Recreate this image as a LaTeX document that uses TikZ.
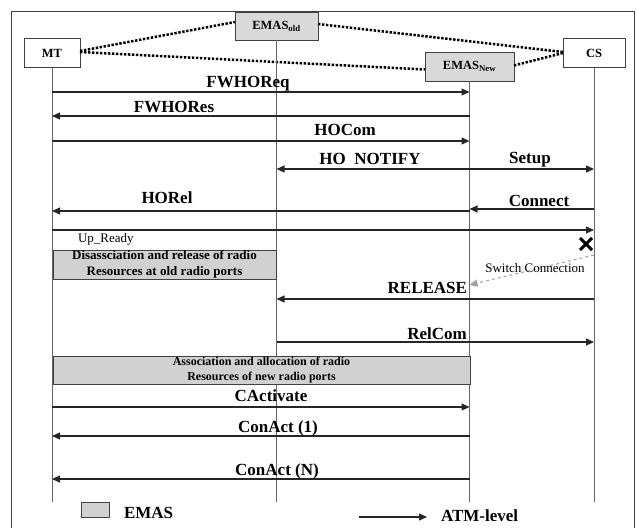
\documentclass[tikz,border=0pt]{standalone}
\usepackage{fontspec}
\setmainfont{Liberation Serif}
\usetikzlibrary{arrows.meta}
\begin{document}
\begin{tikzpicture}[x=1pt,y=-1pt,
  every node/.style={inner sep=0pt, outer sep=0pt},
  entity/.style={draw=black!75, line width=1pt, minimum height=29pt,
    font=\bfseries\fontsize{12.5}{14}\selectfont},
  emas/.style={entity, fill=black!15},
  life/.style={draw=black!60, line width=0.9pt},
  tip/.style={-{Triangle[length=8pt,width=7pt]}},
  msg/.style={draw=black!85, line width=1.1pt, tip},
  lbl/.style={anchor=base, font=\bfseries\fontsize{17}{20}\selectfont},
  note/.style={anchor=base, font=\fontsize{13}{15}\selectfont},
  link/.style={line width=2.5pt, dash pattern=on 2.4pt off 1.6pt},
  band/.style={draw=black!75, line width=1pt, fill=black!18, align=center},
]
\useasboundingbox (0,0) rectangle (637,528);

% outer frame
\draw[black!75, line width=1pt] (11,528) -- (11,11) -- (634,11) -- (634,528);

% entities
\node[entity, minimum width=56pt] (mt) at (52,53) {MT};
\node[emas, minimum width=83pt, minimum height=28pt] (old) at (276.5,26) {EMAS\textsubscript{old}};
\node[emas, minimum width=89pt] (new) at (469.5,66.5) {EMAS\textsubscript{New}};
\node[entity, minimum width=62pt] (cs) at (594,53) {CS};

% dotted association links
\draw[link] ([yshift=2pt]mt.east) -- ([yshift=4pt]old.west);
\draw[link] ([yshift=1pt]mt.east) -- ([yshift=-3pt]new.west);
\draw[link] ([yshift=2pt]old.east) -- ([yshift=1pt]cs.west);
\draw[link] ([yshift=1pt]new.east) -- (cs.west);

% lifelines
\coordinate (mtB) at (mt |- 0,502);
\coordinate (oldB) at (old |- 0,502);
\coordinate (newB) at (new |- 0,502);
\coordinate (csB) at (cs |- 0,502);
\draw[life] (mt.south) -- (mtB);
\draw[life] (old.south) -- (oldB);
\draw[life] (new.south) -- (newB);
\draw[life] (cs.south) -- (csB);

% grey EMAS activity bands
\node[band, minimum width=223pt, minimum height=29pt,
  font=\bfseries\fontsize{13}{16}\selectfont] (band1) at (164.5,264.5)
  {Disassciation and release of radio\\Resources at old radio ports};
\node[band, minimum width=417pt, minimum height=28pt,
  font=\bfseries\fontsize{12}{15}\selectfont] (band2) at (261.5,370)
  {Association and allocation of radio\\Resources of new radio ports};

% messages
\draw[msg] (mt |- 0,92) -- (new |- 0,92);
\node[lbl] (l1) at (248,87) {FWHOReq};
\draw[msg] (new |- 0,116) -- (mt |- 0,116);
\node[lbl] (l2) at (174,112) {FWHORes};
\draw[msg] (mt |- 0,141) -- (new |- 0,141);
\node[lbl] (l3) at (345,135) {HOCom};
\draw[msg, {Triangle[length=8pt,width=7pt]}-{Triangle[length=8pt,width=7pt]}]
  (old |- 0,169) -- (cs |- 0,169);
\node[lbl] (l4) at (370,164) {HO~~NOTIFY};
\node[lbl] (l5) at (530,163) {Setup};
\draw[msg] (cs |- 0,209) -- (new |- 0,209);
\node[lbl] (l6) at (539,206) {Connect};
\draw[msg] (new |- 0,211) -- (mt |- 0,211);
\node[lbl] (l7) at (167,203) {HORel};
\draw[msg] (mt |- 0,230) -- (cs |- 0,230);
\node[note, anchor=base west] (l8) at (78,242) {Up\_Ready};

% broken connection and switch-over
\node (brk) at (586,244) {};
\draw[line width=3pt] (580,238) -- (592,250) (580,250) -- (592,238);
\draw[gray!75, line width=1pt, dashed, tip] (cs |- 0,255) -- (new |- 0,285);
\node[note] (l9) at (535,272) {Switch Connection};

\draw[msg] (cs |- 0,299) -- (old |- 0,299);
\node[lbl, anchor=base east] (l10) at (467,293) {RELEASE};
\draw[msg] (old |- 0,342) -- (cs |- 0,342);
\node[lbl] (l11) at (437,339) {RelCom};
\draw[msg] (mt |- 0,407) -- (new |- 0,407);
\node[lbl] (l12) at (271,401) {CActivate};
\draw[msg] (new |- 0,436) -- (mt |- 0,436);
\node[lbl] (l13) at (278,432) {ConAct (1)};
\draw[msg] (new |- 0,479) -- (mt |- 0,479);
\node[lbl] (l14) at (277,475) {ConAct (N)};

% legend
\node[draw=black!75, fill=black!18, line width=1pt, minimum width=28pt,
  minimum height=15pt] (key) at (95,509.5) {};
\node[lbl, anchor=base west] (keytxt) at (124,518) {EMAS};
\coordinate (atmA) at (359,517);
\coordinate (atmB) at (427,517);
\draw[msg] (atmA) -- (atmB);
\node[lbl, anchor=base west] (atmtxt) at (441,521) {ATM-level};
\end{tikzpicture}
\end{document}
